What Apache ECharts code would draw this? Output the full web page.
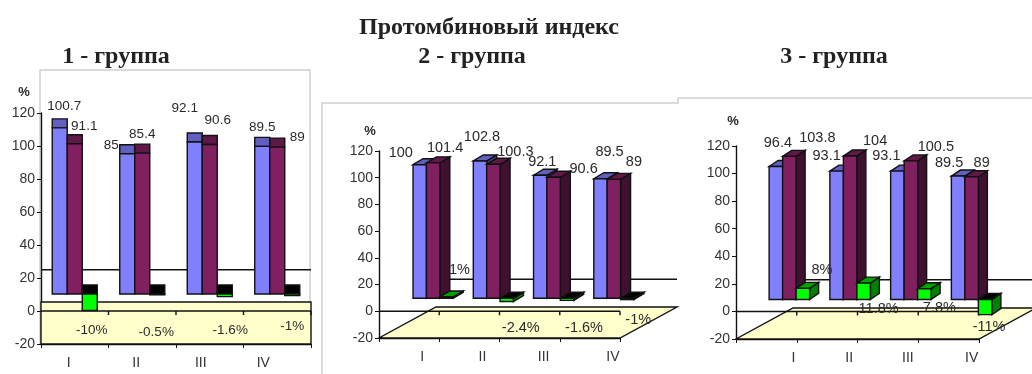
<!DOCTYPE html>
<html>
<head>
<meta charset="utf-8">
<style>html,body{margin:0;padding:0;background:#fff}#c{width:1032px;height:374px}</style>
<script src="https://cdn.jsdelivr.net/npm/echarts@6/dist/echarts.min.js"></script>
</head>
<body>
<div id="c"></div>
<script>
// Prothrombin index by quarter for three patient groups
const quarters = ['I', 'II', 'III', 'IV'];
const yTicks = { min: -20, max: 120, interval: 20 };

const group1Before = [100.7, 85, 92.1, 89.5];
const group1After = [91.1, 85.4, 90.6, 89];
const group1Change = [-10, -0.5, -1.6, -1];

const group2Before = [100, 102.8, 92.1, 89.5];
const group2After = [101.4, 100.3, 90.6, 89];
const group2Change = [1, -2.4, -1.6, -1];

const group3Before = [96.4, 93.1, 93.1, 89.5];
const group3After = [103.8, 104, 100.5, 89];
const group3Change = [8, 11.8, 7.8, -11];

// Pseudo-3D panel geometry and hand-placed label nudges, in pixels
const panels = [
  {
    title: '1 - группа', titleX: 116, titleY: 57,
    grid: { left: 41, top: 113, width: 270, height: 231 },
    percentX: 24, percentY: 92,
    shiftX: 0, lift: 17, depthX: 0, depthY: 9,
    floorDX: 0, floorDY: 42, wallLevel: 25,
    labelSize: 13.5,
    axisNudge: [-6, -6, -9, -14],
    series: [group1Before, group1After, group1Change],
    nudges: [
      [[4.5, -22], [-16, -8], [-10, -34], [0, -19]],
      [[9.5, -17], [0, -19], [8, -24], [20, -10]],
      [[2, 20], [-1, 37], [5.5, 34], [0, 31]]
    ]
  },
  {
    title: '2 - группа', titleX: 472, titleY: 57,
    grid: { left: 379, top: 151, width: 241, height: 187 },
    percentX: 370, percentY: 131,
    shiftX: 24, lift: 13, depthX: 10, depthY: 6,
    floorDX: 57, floorDY: 31, wallLevel: 24,
    labelSize: 14.5,
    axisNudge: [13, 13, 14, 23],
    series: [group2Before, group2After, group2Change],
    nudges: [
      [[-19, -12], [2, -24], [2, -13], [9, -27]],
      [[12, -15], [22, -12], [30, -8], [20, -17]],
      [[13, -27], [14, 27], [17, 28], [11, 20]]
    ]
  },
  {
    title: '3 - группа', titleX: 834, titleY: 57,
    grid: { left: 736, top: 146, width: 243, height: 193 },
    percentX: 733, percentY: 121,
    shiftX: 23, lift: 12, depthX: 9, depthY: 6,
    floorDX: 57, floorDY: 31, wallLevel: 23,
    labelSize: 14.5,
    axisNudge: [27, 22, 20, 23],
    series: [group3Before, group3After, group3Change],
    nudges: [
      [[2, -24], [-10, -15], [-11, -15], [-9, -13]],
      [[28, -18], [25, -15], [25, -14], [10, -14]],
      [[19, -18], [15, 26], [15, 19], [4, 12]]
    ]
  }
];

const faceColors = [
  { front: '#8080ff', top: '#6060c0', side: '#404080' },
  { front: '#802060', top: '#601848', side: '#401030' },
  { front: '#00ff00', top: '#00a000', side: '#008000' }
];
const edge = '#111';
const textColor = '#2a2a2a';
const textFont = '"Liberation Sans", Arial, sans-serif';
const titleFont = '"Liberation Serif", "Times New Roman", serif';

// Front, top and side faces of one bar plus its value label
function barItem(panel, seriesIndex) {
  return function (params, api) {
    const cat = api.value(0);
    const value = api.value(1);
    const band = api.size([1, 0])[0];
    const w = band / 4.5;
    const base = api.coord([cat, 0]);
    const end = api.coord([cat, value]);
    const x = base[0] - 1.5 * w + seriesIndex * w + panel.shiftX;
    const baseY = base[1] - panel.lift;
    const endY = end[1] - panel.lift;
    const upper = Math.min(baseY, endY);
    const lower = Math.max(baseY, endY);
    const dx = panel.depthX;
    const dy = panel.depthY;
    const colors = faceColors[seriesIndex];
    const inverted = value < 0;
    const lineStyle = { stroke: edge, lineWidth: 1.4 };
    const children = [];
    // Negative bars are seen from above into a black cap, positive ones have a lit top
    const capColor = inverted ? '#000' : colors.top;
    const capY = inverted ? baseY : upper;
    if (dx > 0) {
      children.push({
        type: 'polygon',
        shape: { points: [[x + w, upper], [x + w + dx, upper - dy], [x + w + dx, lower - dy], [x + w, lower]] },
        style: Object.assign({ fill: colors.side }, lineStyle)
      });
    }
    children.push({
      type: 'polygon',
      shape: { points: [[x, capY], [x + dx, capY - dy], [x + w + dx, capY - dy], [x + w, capY]] },
      style: Object.assign({ fill: capColor }, lineStyle)
    });
    children.push({
      type: 'rect',
      shape: { x: x, y: upper, width: w, height: lower - upper },
      style: Object.assign({ fill: colors.front }, lineStyle)
    });
    const nudge = panel.nudges[seriesIndex][cat];
    children.push({
      type: 'text',
      z2: 20,
      style: {
        text: seriesIndex === 2 ? value + '%' : String(value),
        x: x + w / 2 + nudge[0],
        y: endY + nudge[1],
        align: 'center',
        verticalAlign: 'middle',
        fill: textColor,
        font: panel.labelSize + 'px ' + textFont
      }
    });
    return { type: 'group', children: children };
  };
}

// Floor plane, zero line with its ticks, and the far edge of the floor
function floorItem(panel) {
  return function (params, api) {
    const sys = params.coordSys;
    const left = sys.x;
    const right = sys.x + sys.width;
    const bottom = api.coord([0, yTicks.min])[1];
    const zero = api.coord([0, 0])[1];
    const wall = api.coord([0, panel.wallLevel])[1];
    const back = bottom - panel.floorDY;
    const stroke = { stroke: '#111', lineWidth: 1.4 };
    const children = [{
      type: 'polygon',
      shape: { points: [[left, bottom], [right, bottom], [right + panel.floorDX, back], [left + panel.floorDX, back]] },
      style: Object.assign({ fill: '#ffffcc' }, stroke)
    }, {
      type: 'line',
      shape: { x1: left, y1: zero, x2: right, y2: zero },
      style: stroke
    }, {
      type: 'line',
      shape: { x1: left + panel.floorDX, y1: wall, x2: right + panel.floorDX, y2: wall },
      style: stroke
    }];
    const step = sys.width / quarters.length;
    for (let i = 1; i <= quarters.length; i++) {
      children.push({
        type: 'line',
        shape: { x1: left + i * step, y1: zero, x2: left + i * step, y2: zero + 4 },
        style: stroke
      });
    }
    return { type: 'group', children: children };
  };
}

const grids = [], xAxes = [], yAxes = [], seriesList = [];
const headingStyle = { fontFamily: titleFont, fontWeight: 'bold', fontSize: 24, color: '#222' };
const titles = [{
  text: 'Протомбиновый индекс', left: 489, top: 28, padding: 0,
  textAlign: 'center', textVerticalAlign: 'middle',
  textStyle: Object.assign({}, headingStyle, { fontSize: 24 })
}];

panels.forEach(function (panel, p) {
  titles.push({
    text: panel.title, left: panel.titleX, top: panel.titleY, padding: 0,
    textAlign: 'center', textVerticalAlign: 'middle',
    textStyle: headingStyle
  });
  titles.push({
    text: '%', left: panel.percentX, top: panel.percentY, padding: 0,
    textAlign: 'center', textVerticalAlign: 'middle',
    textStyle: { fontFamily: textFont, fontWeight: 'bold', fontSize: 13, color: textColor }
  });
  grids.push(Object.assign({ containLabel: false }, panel.grid));

  const rich = {};
  panel.axisNudge.forEach(function (n, i) {
    rich['q' + i] = {
      padding: n >= 0 ? [0, 0, 0, 2 * n] : [0, -2 * n, 0, 0],
      fontSize: 14, fontFamily: textFont, color: '#333'
    };
  });
  xAxes.push({
    type: 'category', gridIndex: p, data: quarters,
    axisLine: { onZero: false, lineStyle: { color: '#111', width: 1.4 } },
    axisTick: { show: true, length: 4, lineStyle: { color: '#111' } },
    axisLabel: {
      margin: 12, interval: 0, hideOverlap: false,
      formatter: function (v, i) { return '{q' + i + '|' + v + '}'; },
      rich: rich
    }
  });
  yAxes.push({
    type: 'value', gridIndex: p,
    min: yTicks.min, max: yTicks.max, interval: yTicks.interval,
    splitLine: { show: false },
    axisLine: { show: true, lineStyle: { color: '#111', width: 1.4 } },
    axisTick: { show: true, length: 4, lineStyle: { color: '#111' } },
    axisLabel: { margin: 6, fontSize: 14, fontFamily: textFont, color: '#333' }
  });

  seriesList.push({
    type: 'custom', xAxisIndex: p, yAxisIndex: p, silent: true,
    clip: false, z: 1,
    data: [[0, 0]],
    encode: { x: 0, y: 1 },
    renderItem: floorItem(panel)
  });
  panel.series.forEach(function (values, s) {
    seriesList.push({
      type: 'custom', xAxisIndex: p, yAxisIndex: p, silent: true,
      clip: false, z: 2 + s,
      data: values.map(function (v, i) { return [i, v]; }),
      encode: { x: 0, y: 1 },
      renderItem: barItem(panel, s)
    });
  });
});

// Light frames of the three embedded chart panels
const frame = '#d0d0d0';
const frames = [
  [[40, 345], [40, 70], [310, 70], [310, 345]],
  [[322, 374], [322, 103], [678, 103], [678, 98]],
  [[678, 98], [1032, 98]]
].map(function (pts) {
  return { type: 'polyline', silent: true, z: -1, shape: { points: pts }, style: { fill: null, stroke: frame, lineWidth: 1.5 } };
});

echarts.init(document.getElementById('c'), null, { renderer: 'canvas' }).setOption({
  backgroundColor: '#fff',
  animation: false,
  title: titles,
  grid: grids,
  xAxis: xAxes,
  yAxis: yAxes,
  graphic: frames,
  series: seriesList
});
</script>
</body>
</html>
